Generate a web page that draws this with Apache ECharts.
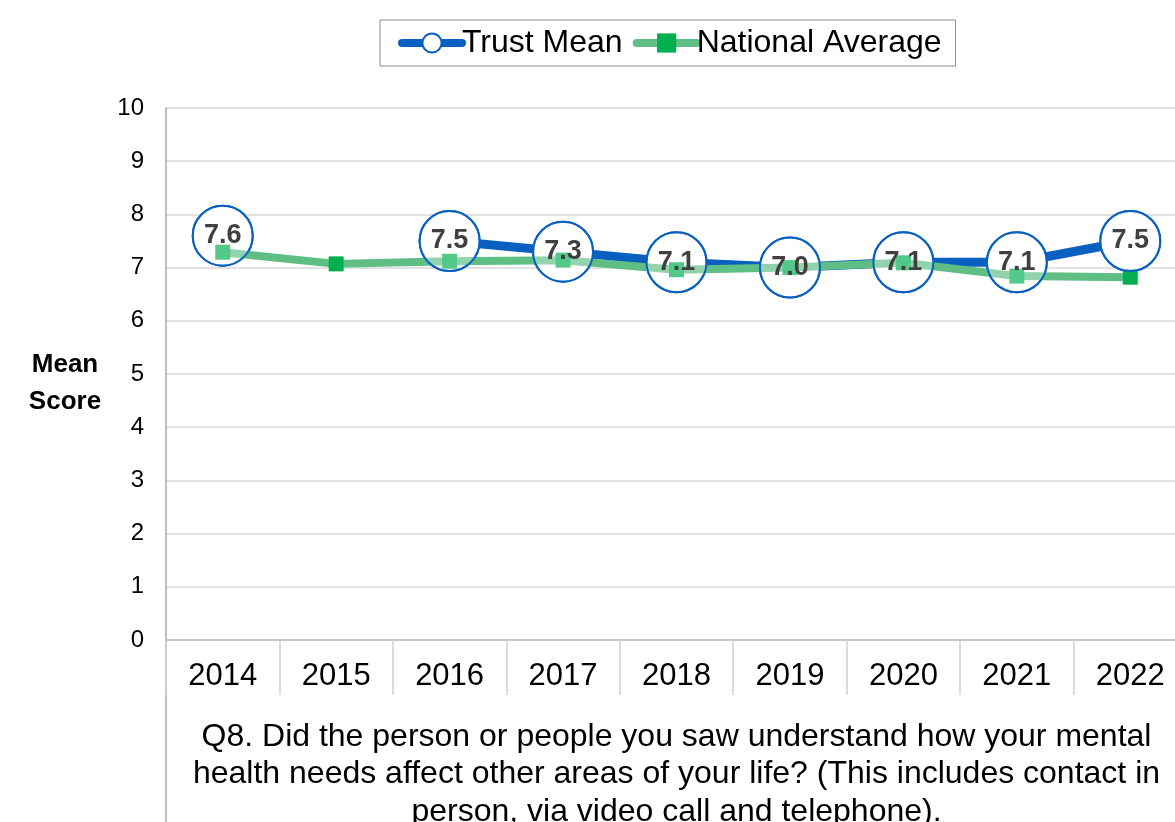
<!DOCTYPE html>
<html>
<head>
<meta charset="utf-8">
<script src="https://cdn.jsdelivr.net/npm/echarts@6/dist/echarts.min.js"></script>
<style>
  html, body { margin: 0; padding: 0; background: #fff; }
  #chart { width: 1175px; height: 822px; }
</style>
</head>
<body>
<div id="chart"></div>
<script>
// Survey years along the category axis
const years = ['2014', '2015', '2016', '2017', '2018', '2019', '2020', '2021', '2022'];
// Trust mean score per year (no result in 2015)
const trustMean = [7.6, null, 7.5, 7.3, 7.1, 7.0, 7.1, 7.1, 7.5];
// National average score per year
const nationalAverage = [7.29, 7.07, 7.12, 7.14, 6.96, 7.0, 7.09, 6.84, 6.82];
// Y-axis range and step
const yMin = 0, yMax = 10, yStep = 1;
const questionText = 'Q8. Did the person or people you saw understand how your mental\nhealth needs affect other areas of your life? (This includes contact in\nperson, via video call and telephone).';

const BLUE = '#0A60C0';
const GREEN_LINE = '#5EBE84';
const GREEN_MARK = '#00B050';
const FONT = 'Liberation Sans, Arial, sans-serif';

const chart = echarts.init(document.getElementById('chart'));

chart.setOption({
  animation: false,
  textStyle: { fontFamily: FONT },
  legend: {
    data: ['Trust Mean', 'National Average'],
    left: 380,
    top: 20,
    borderColor: '#8c8c8c',
    borderWidth: 1,
    borderRadius: 0,
    padding: [7, 14, 7, 18],
    itemWidth: 60,
    itemHeight: 24,
    itemGap: 10,
    lineStyle: { width: 8, cap: 'round' },
    textStyle: { fontSize: 32, color: '#000', fontFamily: FONT, padding: [0, 0, 0, -5] }
  },
  grid: { left: 166, top: 108, width: 1021, height: 532, containLabel: false, outerBoundsMode: 'none' },
  xAxis: {
    type: 'category',
    data: years,
    boundaryGap: true,
    axisLine: { lineStyle: { color: '#bfbfbf', width: 1.5 } },
    axisTick: { show: true, length: 55, interval: 0, lineStyle: { color: '#d0d0d0', width: 1.5 } },
    axisLabel: { fontSize: 31, color: '#000', margin: 21, fontFamily: FONT },
    name: questionText,
    nameLocation: 'middle',
    nameGap: 78,
    nameTextStyle: { fontSize: 32, color: '#000', lineHeight: 37.5, align: 'center', verticalAlign: 'top', fontFamily: FONT }
  },
  yAxis: {
    type: 'value',
    min: yMin,
    max: yMax,
    interval: yStep,
    axisLine: { show: true, lineStyle: { color: '#a6a6a6', width: 1.5 } },
    axisTick: { show: false },
    axisLabel: { fontSize: 24, color: '#000', margin: 22, fontFamily: FONT },
    splitLine: { lineStyle: { color: '#d9d9d9', width: 1.5 } }
  },
  graphic: [
    {
      type: 'text',
      x: 65,
      y: 346,
      style: { text: 'Mean\nScore', font: 'bold 26px ' + FONT, fill: '#000', align: 'center', lineHeight: 37 }
    },
    {
      type: 'line',
      shape: { x1: 166, y1: 640, x2: 166, y2: 822 },
      style: { stroke: '#a6a6a6', lineWidth: 1.5 }
    }
  ],
  series: [
    {
      name: 'Trust Mean',
      type: 'line',
      data: trustMean,
      z: 2,
      lineStyle: { color: BLUE, width: 9 },
      symbol: 'circle',
      symbolSize: 60,
      itemStyle: { color: '#ffffff', borderColor: BLUE, borderWidth: 2 },
      connectNulls: false
    },
    {
      name: 'National Average',
      type: 'line',
      data: nationalAverage,
      z: 3,
      lineStyle: { color: GREEN_LINE, width: 8 },
      symbol: 'rect',
      symbolSize: 15,
      itemStyle: { color: GREEN_MARK, borderWidth: 0 }
    },
    {
      name: 'Trust Mean label',
      type: 'line',
      data: trustMean,
      z: 4,
      lineStyle: { width: 0, opacity: 0 },
      symbol: 'circle',
      symbolSize: 60,
      itemStyle: { color: 'rgba(255,255,255,0.32)', borderColor: BLUE, borderWidth: 2 },
      label: {
        show: true,
        position: 'inside',
        formatter: p => p.value == null ? '' : p.value.toFixed(1),
        fontSize: 27,
        fontWeight: 'bold',
        color: '#404040',
        fontFamily: FONT
      },
      tooltip: { show: false }
    }
  ]
});
</script>
</body>
</html>
